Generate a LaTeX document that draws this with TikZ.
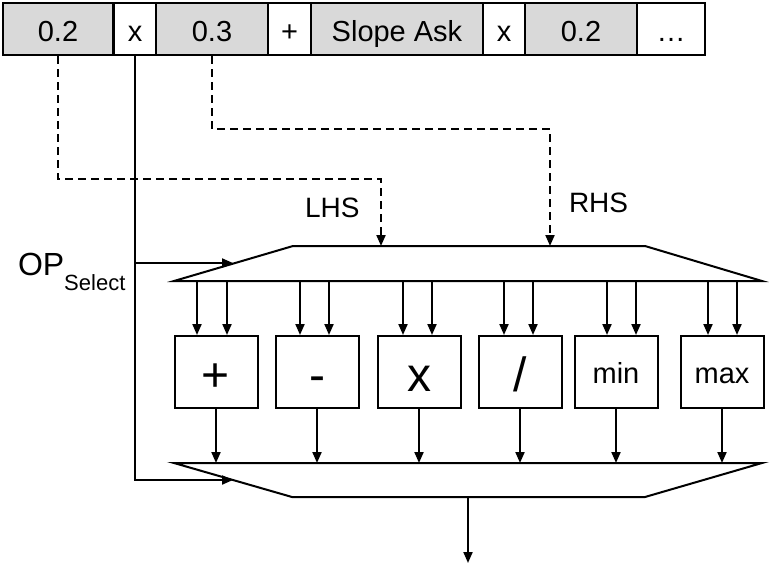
\documentclass[tikz,border=0pt]{standalone}
\usepackage{fontspec}
\setmainfont{Liberation Sans}
\usetikzlibrary{arrows.meta}
\definecolor{cellgray}{RGB}{217,217,217}

\begin{document}
\begin{tikzpicture}[x=1pt, y=-1pt, line width=2pt,
  cell/.style={draw, minimum height=52pt, inner sep=0pt, text height=24pt, text depth=0pt,
    font=\fontsize{29}{33}\selectfont},
  valcell/.style={cell, fill=cellgray},
  opbox/.style={draw, minimum width=83pt, minimum height=72pt, inner sep=0pt},
  bigop/.style={opbox, text height=38pt, text depth=0pt, font=\fontsize{48}{52}\selectfont},
  smallop/.style={opbox, text height=22pt, text depth=0pt, font=\fontsize{29}{33}\selectfont},
  arr/.style={-{Triangle[length=11pt,width=9pt]}},
  dasharr/.style={arr, dash pattern=on 8pt off 5pt},
  lbl/.style={inner sep=0pt, anchor=base west, font=\fontsize{28}{32}\selectfont}]

  \useasboundingbox (0,0) rectangle (773,565);

  % instruction stream
  \node[valcell, minimum width=110pt] (c1) at (58,29) {0.2};
  \node[cell, minimum width=43pt] (c2) at (135,29) {x};
  \node[valcell, minimum width=112pt] (c3) at (212,29) {0.3};
  \node[cell, minimum width=43pt] (c4) at (289.5,29) {+};
  \node[valcell, minimum width=172pt] (c5) at (397,29) {Slope Ask};
  \node[cell, minimum width=42pt] (c6) at (504,29) {x};
  \node[valcell, minimum width=112pt] (c7) at (581,29) {0.2};
  \node[cell, minimum width=68pt] (c8) at (671,29) {…};

  % input mux
  \coordinate (m1sw) at (174,281);
  \coordinate (m1nw) at (293,246);
  \coordinate (m1ne) at (645,246);
  \coordinate (m1se) at (762,281);
  \draw (m1sw) -- (m1nw) -- (m1ne) -- (m1se) -- cycle;

  % output mux
  \coordinate (m2nw) at (174,463);
  \coordinate (m2ne) at (762,463);
  \coordinate (m2se) at (645,497);
  \coordinate (m2sw) at (292,497);
  \draw (m2nw) -- (m2ne) -- (m2se) -- (m2sw) -- cycle;

  % operator units
  \node[bigop] (add) at (216,372) {+};
  \node[bigop] (sub) at (317,372) {-};
  \node[bigop] (mul) at (419,372) {x};
  \node[bigop] (div) at (520,372) {/};
  \node[smallop] (min) at (616,372) {min};
  \node[smallop] (max) at (722,372) {max};

  \foreach \b/\dl/\dr in {add/-19/11, sub/-17/12, mul/-16/13, div/-16/13, min/-9/20, max/-14/15} {
    \draw[arr] ([xshift=\dl]\b.north |- m1sw) -- ([xshift=\dl]\b.north);
    \draw[arr] ([xshift=\dr]\b.north |- m1sw) -- ([xshift=\dr]\b.north);
    \draw[arr] (\b.south) -- (\b.south |- m2nw);
  }

  % operands
  \coordinate (lhs) at (381,246);
  \coordinate (rhs) at (550,246);
  \draw[dasharr] (c1.south) -- ++(0,123) -| (lhs);
  \draw[dasharr] (c3.south) -- ++(0,73) -| (rhs);
  \node[lbl] (lhslbl) at (304,217) {LHS};
  \node[lbl] (rhslbl) at (568,212) {RHS};

  % operator select
  \coordinate (opin1) at (233,263);
  \coordinate (opin2) at (233,480);
  \draw[arr] (c2.south) -- (c2.south |- opin2) -- (opin2);
  \draw[arr] (c2.south |- opin1) -- (opin1);
  \node[inner sep=0pt, anchor=base west] (oplbl) at (17,275)
    {{\fontsize{32}{38}\selectfont OP}{\fontsize{22}{26}\selectfont\raisebox{-15pt}{Select}}};

  % result
  \coordinate (out) at (468,563);
  \draw[arr] (out |- m2sw) -- (out);

\end{tikzpicture}
\end{document}
